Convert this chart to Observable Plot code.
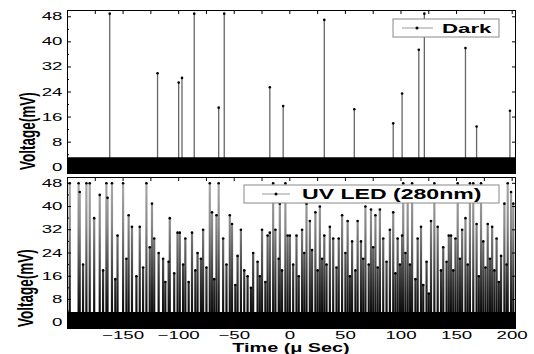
<!DOCTYPE html>
<html><head><meta charset="utf-8">
<script src="https://cdn.jsdelivr.net/npm/d3@7"></script>
<script src="https://cdn.jsdelivr.net/npm/@observablehq/plot@0.6"></script>
<style>
body{margin:0;background:#fff;}
#chart{width:534px;height:354px;position:relative;}
#chart svg{display:block;}
</style></head><body><div id="chart"></div>
<script>
// ---- data ----
const xDomain = [-200, 203];
const yDomain = [-2, 50];
const yTickValues = [0, 8, 16, 24, 32, 40, 48];
const yMinorTicks = [4, 12, 20, 28, 36, 44];
const xTickLabels = [-150, -100, -50, 0, 50, 100, 150, 200];
const xMinorTicks = [-200, -175, -125, -75, -25, 25, 75, 125, 175];
const darkBand = [-2, 3];
const uvBand = [-2, 3.5];

// Dark: spike times (μs) and peak voltages (mV)
const darkTimes = [-162, -119, -100, -97, -86, -64, -59, -18, -6, 31, 58, 93, 101, 116, 121, 158, 168, 198];
const darkPeaks = [49, 30, 27, 28.5, 49, 19, 49, 25.5, 19.5, 47, 18.5, 14, 23.5, 37.5, 49, 38, 13, 18];

// UV LED (280nm): spike times (μs) and peak voltages (mV)
const uvTimes = [-198, -190, -189, -186, -183, -180, -176, -171, -168, -165, -164, -160, -157, -155, -150, -147, -145, -142, -138, -135, -132, -129, -126, -124, -122, -118, -114, -112, -109, -108, -104, -101, -99, -96, -94, -91, -88, -85, -83, -80, -78, -75, -72, -70, -68, -66, -64, -60, -57, -54, -52, -49, -47, -44, -41, -38, -35, -33, -29, -27, -25, -22, -20, -18, -15, -13, -10, -9, -7, -4, -2, 0, 3, 6, 8, 11, 13, 15, 18, 20, 23, 25, 27, 29, 31, 33, 36, 39, 42, 44, 47, 50, 52, 54, 56, 59, 61, 64, 66, 68, 71, 73, 75, 77, 79, 81, 84, 87, 90, 93, 95, 97, 99, 101, 102, 104, 106, 108, 110, 113, 115, 118, 120, 123, 125, 127, 130, 133, 136, 138, 141, 143, 145, 147, 149, 151, 153, 155, 158, 160, 162, 165, 168, 170, 172, 174, 176, 178, 180, 182, 184, 186, 188, 190, 193, 195, 196, 199, 201];
const uvPeaks = [48, 48, 45, 20, 48, 48, 36, 44, 18, 48, 43, 48, 15, 30, 48, 22, 37, 33, 16, 33, 19, 48, 26, 41, 29, 24, 22, 14, 21, 36, 17, 31, 31, 20, 29, 14, 31, 18, 24, 22, 32, 19, 48, 38, 15, 37, 48, 29, 20, 37, 34, 13, 23, 32, 18, 16, 12, 24, 21, 16, 32, 14, 30, 31, 48, 32, 22, 41, 18, 48, 30, 30, 20, 30, 16, 32, 24, 41, 35, 25, 38, 18, 40, 22, 30, 20, 33, 29, 19, 29, 37, 24, 35, 16, 28, 18, 35, 28, 22, 40, 20, 39, 26, 37, 19, 39, 29, 21, 32, 38, 17, 29, 20, 30, 48, 24, 47, 20, 48, 15, 29, 33, 13, 21, 10, 35, 48, 33, 18, 26, 21, 30, 30, 18, 29, 48, 22, 32, 36, 20, 48, 48, 34, 16, 48, 28, 19, 34, 22, 33, 18, 29, 14, 23, 41, 20, 48, 45, 41];

const W = 534;
const FONT = "Liberation Sans, Arial, sans-serif";
const STRETCH = 1.65;      // the original figure is widened horizontally
const TICK_STRETCH = 1.7;

function panel({times, peaks, band, height, marginTop, marginBottom, showXLabels, lineStroke, lineWidth}) {
  const marks = [
    Plot.ruleX(times, {x: d => d, y1: 0, y2: (d, i) => peaks[i], stroke: lineStroke, strokeWidth: lineWidth}),
    Plot.areaY(xDomain, {x: d => d, y1: band[0], y2: band[1], fill: "#000"}),
    Plot.dot(times, {x: d => d, y: (d, i) => peaks[i], r: 1.3, fill: "#000", stroke: "none"}),
    Plot.frame({stroke: "#000", strokeWidth: 1}),
    Plot.axisY(yTickValues, {anchor: "left", tickSize: -4, tickPadding: 9, label: null, fontSize: 11}),
    Plot.axisY(yMinorTicks, {anchor: "left", tickSize: -2, tickFormat: () => "", label: null}),
    Plot.axisY(yTickValues, {anchor: "right", tickSize: -4, tickFormat: () => "", label: null}),
    Plot.axisX(xTickLabels.concat(xMinorTicks), {anchor: "top", tickSize: -3, tickFormat: () => "", label: null}),
    showXLabels
      ? Plot.axisX(xTickLabels, {anchor: "bottom", tickSize: -4, tickPadding: 7, label: null, fontSize: 11})
      : Plot.axisX(xTickLabels, {anchor: "bottom", tickSize: -4, tickFormat: () => "", label: null}),
    Plot.axisX(xMinorTicks, {anchor: "bottom", tickSize: -2, tickFormat: () => "", label: null})
  ];
  return Plot.plot({
    width: W, height,
    marginLeft: 67, marginRight: 19, marginTop, marginBottom,
    x: {domain: xDomain},
    y: {domain: yDomain},
    style: {fontFamily: FONT, fontSize: "11px", background: "white", color: "#000", overflow: "visible"},
    marks
  });
}

// widen every tick label horizontally, as in the original figure
function stretchTicks(svg) {
  svg.querySelectorAll("text").forEach(t => {
    const tr = t.getAttribute("transform");
    if (tr && tr.includes("translate")) t.setAttribute("transform", tr + ` scale(${TICK_STRETCH},1)`);
  });
}

function addText(svg, txt, x, y, {size = 13, weight = "bold", anchor = "start", rotate = 0, dy = "0"} = {}) {
  d3.select(svg).append("text")
    .attr("transform", `translate(${x},${y}) scale(${STRETCH},1)` + (rotate ? ` rotate(${rotate})` : ""))
    .attr("text-anchor", anchor)
    .attr("dy", dy)
    .attr("font-family", FONT)
    .attr("font-size", size)
    .attr("font-weight", weight)
    .attr("fill", "#000")
    .text(txt);
}

function addLegend(svg, {x0, x1, y0, y1, lx0, lx1, dotX, textX, label, size}) {
  const g = d3.select(svg).append("g");
  g.append("rect").attr("x", x0).attr("y", y0).attr("width", x1 - x0).attr("height", y1 - y0)
    .attr("fill", "#fff").attr("stroke", "#888").attr("stroke-width", 1);
  const ym = (y0 + y1) / 2;
  g.append("line").attr("x1", lx0).attr("x2", lx1).attr("y1", ym).attr("y2", ym).attr("stroke", "#999");
  g.append("circle").attr("cx", dotX).attr("cy", ym).attr("r", 1.5).attr("fill", "#000");
  addText(svg, label, textX, ym, {size, dy: "0.36em"});
}

const topPanel = panel({times: darkTimes, peaks: darkPeaks, band: darkBand, height: 176, marginTop: 10, marginBottom: 3, showXLabels: false, lineStroke: "#666", lineWidth: 1.3});
const bottomPanel = panel({times: uvTimes, peaks: uvPeaks, band: uvBand, height: 178, marginTop: 1, marginBottom: 26, showXLabels: true, lineStroke: "url(#uvGrad)", lineWidth: 2.2});
stretchTicks(topPanel);
stretchTicks(bottomPanel);

// vertical shading of the dense UV trace: dark near the baseline, light grey near the top
{
  const ys = bottomPanel.scale("y");
  const grad = d3.select(bottomPanel).insert("defs", ":first-child").append("linearGradient")
    .attr("id", "uvGrad").attr("gradientUnits", "userSpaceOnUse")
    .attr("x1", 0).attr("x2", 0).attr("y1", ys.apply(0)).attr("y2", ys.apply(48));
  [[0, "#000"], [0.2, "#222"], [0.45, "#555"], [0.7, "#888"], [1, "#aaa"]].forEach(([o, c]) =>
    grad.append("stop").attr("offset", o).attr("stop-color", c));
}

addText(topPanel, "Voltage(mV)", 27, 170, {size: 13.5, rotate: -90, dy: "0.35em"});
addText(bottomPanel, "Voltage(mV)", 25, 151, {size: 13.5, rotate: -90, dy: "0.35em"});
addText(bottomPanel, "Time (\u03bc Sec)", 291, 176, {size: 12, anchor: "middle"});

addLegend(topPanel, {x0: 393, x1: 499, y0: 19, y1: 37, lx0: 402, lx1: 433, dotX: 417, textX: 442, label: "Dark", size: 13.5});
addLegend(bottomPanel, {x0: 244, x1: 499, y0: 9, y1: 27, lx0: 262, lx1: 290, dotX: 276, textX: 302, label: "UV LED (280nm)", size: 14});

document.getElementById("chart").append(topPanel, bottomPanel);
</script>
</body></html>
